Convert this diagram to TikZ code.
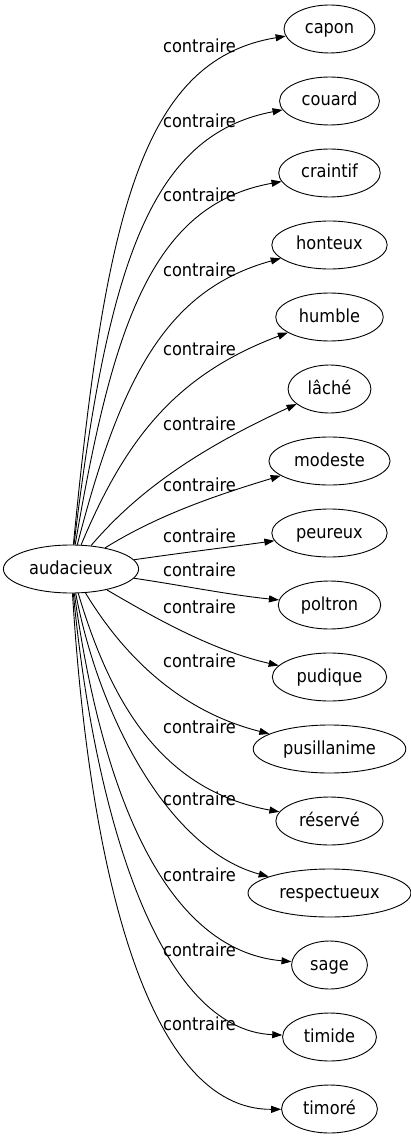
\documentclass[tikz,border=0pt]{standalone}
\usepackage{fontspec}
\setmainfont{DejaVu Sans Condensed}
\usepackage{tikz}
\usetikzlibrary{arrows.meta,shapes.geometric}
\tikzset{
  antw/.style={ellipse,draw,line width=.9pt,inner xsep=7.5pt,inner ysep=2pt,minimum height=48pt,text height=14pt,text depth=4pt,font=\fontsize{18pt}{22pt}\selectfont},
  srcw/.style={antw,inner xsep=6pt},
  rel/.style={line width=.9pt,-{Triangle[length=10pt,width=7pt]}},
  lab/.style={anchor=base,inner sep=0pt,font=\fontsize{18pt}{22pt}\selectfont}
}

\begin{document}
\begin{tikzpicture}[x=1pt,y=-1pt]
  \useasboundingbox (0,0) rectangle (411,1139);
  \node[srcw] (aud) at (71,569) {audacieux};
  \foreach \nm/\txt [count=\i from 0] in {capon/capon,couard/couard,craintif/craintif,honteux/honteux,humble/humble,lache/lâché,modeste/modeste,peureux/peureux,poltron/poltron,pudique/pudique,pusil/pusillanime,reserve/réservé,respect/respectueux,sage/sage,timide/timide,timore/timoré}
    \node[antw] (\nm) at (329.5,{29+72*\i}) {\txt};
  \draw[rel] (aud) .. controls (105,220) and (140,60) .. (capon);
  \draw[rel] (aud) .. controls (108,265) and (150,135) .. (couard);
  \draw[rel] (aud) .. controls (112,330) and (150,205) .. (craintif);
  \draw[rel] (aud) .. controls (120,380) and (165,290) .. (honteux);
  \draw[rel] (aud) .. controls (125,440) and (175,375) .. (humble);
  \draw[rel] (aud) .. controls (130,500) and (185,455) .. (lache);
  \draw[rel] (aud) .. controls (150,520) and (200,500) .. (modeste);
  \draw[rel] (aud) .. controls (180,553) and (230,547) .. (peureux);
  \draw[rel] (aud) .. controls (180,585) and (230,595) .. (poltron);
  \draw[rel] (aud) .. controls (150,615) and (210,650) .. (pudique);
  \draw[rel] (aud) .. controls (120,650) and (175,710) .. (pusil);
  \draw[rel] (aud) .. controls (110,700) and (160,790) .. (reserve);
  \draw[rel] (aud) .. controls (100,720) and (170,850) .. (respect);
  \draw[rel] (aud) .. controls (100,780) and (160,950) .. (sage);
  \draw[rel] (aud) .. controls (95,820) and (160,1030) .. (timide);
  \draw[rel] (aud) .. controls (90,880) and (150,1110) .. (timore);
  \foreach \y [count=\k] in {48,122.7,196.7,271.7,350,425,486,537,571.7,608,662.7,728.3,800,876,951,1025}
    \node[lab] (l\k) at (199.5,{\y+5}) {contraire};
\end{tikzpicture}
\end{document}
